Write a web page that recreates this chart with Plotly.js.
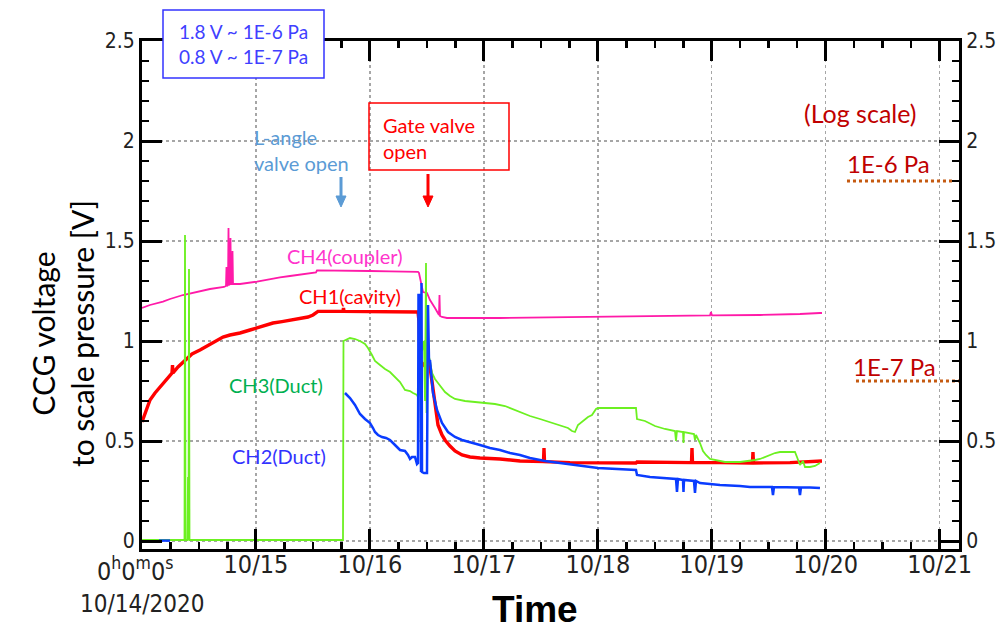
<!DOCTYPE html>
<html>
<head>
<meta charset="utf-8">
<script src="https://cdn.plot.ly/plotly-3.0.1.min.js"></script>
<style>html,body{margin:0;padding:0;background:#fff;}#chart{width:996px;height:629px;}</style>
</head>
<body>
<div id="chart"></div>
<script>
// ---- data: time in days since 10/14/2020 00:00, values in volts ----
const tickDays = [0, 1, 2, 3, 4, 5, 6, 7];
const tickLabels = ['', '10/15', '10/16', '10/17', '10/18', '10/19', '10/20', '10/21'];
const startTimeLabel = '0<sup>h</sup>0<sup>m</sup>0<sup>s</sup>';
const startDateLabel = '10/14/2020';

const ch4_t = [0, 0.0702, 0.1843, 0.2457, 0.3598, 0.4651, 0.5968, 0.7196, 0.7372, 0.7415, 0.7459, 0.7547, 0.7591, 0.7635, 0.7723, 0.7766, 0.7810, 0.7898, 0.7942, 0.7986, 0.8600, 1.0092, 1.1233, 1.2111, 1.2988, 1.3866, 1.4743, 1.5270, 1.5358, 1.6498, 1.8253, 2.0010, 2.1764, 2.3080, 2.4222, 2.4309, 2.4485, 2.4661, 2.5011, 2.5274, 2.5713, 2.5977, 2.6064, 2.6108, 2.6152, 2.6327, 2.6766, 3.1417, 3.5805, 3.9316, 4.0193, 4.4581, 4.8969, 4.9846, 4.9934, 5.0022, 5.4234, 5.6866, 5.7744, 5.9499, 5.9675];
const ch4_v = [1.165, 1.18, 1.197, 1.21, 1.23, 1.245, 1.26, 1.27, 1.275, 1.37, 1.275, 1.28, 1.565, 1.28, 1.285, 1.515, 1.285, 1.285, 1.45, 1.285, 1.285, 1.297, 1.31, 1.318, 1.325, 1.333, 1.34, 1.343, 1.353, 1.353, 1.35, 1.35, 1.348, 1.348, 1.346, 1.34, 1.285, 1.245, 1.24, 1.205, 1.165, 1.135, 1.13, 1.23, 1.125, 1.12, 1.115, 1.115, 1.118, 1.12, 1.12, 1.122, 1.125, 1.128, 1.145, 1.128, 1.13, 1.132, 1.135, 1.14, 1.14];

const ch1_t = [0, 0.0351, 0.0702, 0.1141, 0.1580, 0.2018, 0.2457, 0.2633, 0.2677, 0.2720, 0.3159, 0.3774, 0.4388, 0.5090, 0.5968, 0.7108, 0.7723, 0.8600, 0.9478, 1.0092, 1.0794, 1.1496, 1.2286, 1.2988, 1.3866, 1.4568, 1.5007, 1.5445, 1.7639, 1.7683, 1.7727, 2.2642, 2.4222, 2.4309, 2.4397, 2.4748, 2.5099, 2.5274, 2.5538, 2.5713, 2.5977, 2.6327, 2.6591, 2.7029, 2.7468, 2.8083, 2.8785, 2.9662, 3.1417, 3.3173, 3.5235, 3.5279, 3.5323, 3.7560, 4.0018, 4.3352, 4.3440, 4.8223, 4.8267, 4.8311, 5.0724, 5.3576, 5.3619, 5.3663, 5.6866, 5.9675];
const ch1_v = [0.595, 0.65, 0.705, 0.74, 0.77, 0.8, 0.83, 0.84, 0.88, 0.84, 0.87, 0.905, 0.935, 0.955, 0.985, 1.02, 1.03, 1.04, 1.055, 1.065, 1.075, 1.09, 1.097, 1.105, 1.115, 1.12, 1.13, 1.148, 1.148, 1.165, 1.148, 1.145, 1.145, 1.1, 0.9, 0.88, 0.9, 0.87, 0.76, 0.66, 0.58, 0.53, 0.505, 0.475, 0.45, 0.43, 0.42, 0.415, 0.41, 0.4, 0.397, 0.465, 0.397, 0.392, 0.39, 0.39, 0.395, 0.392, 0.465, 0.392, 0.392, 0.39, 0.445, 0.39, 0.392, 0.40];

const ch3_t = [0, 0.3730, 0.3774, 0.3817, 0.3993, 0.4037, 0.4081, 0.4125, 0.4168, 1.7639, 1.7683, 1.8253, 1.8692, 1.9131, 1.9570, 1.9833, 2.0184, 2.0447, 2.0886, 2.1325, 2.1764, 2.2203, 2.2642, 2.3080, 2.3519, 2.3783, 2.4134, 2.4222, 2.4309, 2.4397, 2.4485, 2.4573, 2.4748, 2.4836, 2.4924, 2.4968, 2.5099, 2.5274, 2.5450, 2.5713, 2.5977, 2.6591, 2.7029, 2.7468, 2.8346, 2.9223, 3.0101, 3.0979, 3.1856, 3.2295, 3.3173, 3.4050, 3.4928, 3.5805, 3.6683, 3.7385, 3.7736, 3.7999, 3.8262, 3.8701, 3.9140, 3.9491, 3.9842, 4.0018, 4.3352, 4.3440, 4.4142, 4.5020, 4.5897, 4.6775, 4.6863, 4.6950, 4.7477, 4.7521, 4.7565, 4.8442, 4.8530, 4.8618, 4.8969, 4.9232, 4.9495, 4.9846, 5.0285, 5.1162, 5.2479, 5.3356, 5.3795, 5.4234, 5.4672, 5.5111, 5.5550, 5.5989, 5.7305, 5.7481, 5.7744, 5.8007, 5.8183, 5.8622, 5.9061, 5.9499];
const ch3_v = [0.005, 0.005, 1.53, 0.005, 0.005, 0.32, 0.005, 1.36, 0.005, 0.005, 1.0, 1.015, 1.01, 1.0, 0.985, 0.965, 0.93, 0.9, 0.88, 0.86, 0.845, 0.82, 0.795, 0.755, 0.75, 0.74, 0.73, 0.72, 0.735, 1.2, 1.05, 0.95, 1.0, 0.7, 1.39, 0.64, 0.94, 0.9, 0.84, 0.81, 0.79, 0.745, 0.725, 0.71, 0.7, 0.695, 0.69, 0.685, 0.675, 0.665, 0.645, 0.625, 0.61, 0.595, 0.58, 0.565, 0.55, 0.545, 0.58, 0.6, 0.62, 0.63, 0.66, 0.665, 0.665, 0.61, 0.6, 0.575, 0.56, 0.55, 0.5, 0.55, 0.545, 0.49, 0.545, 0.535, 0.505, 0.53, 0.49, 0.45, 0.43, 0.41, 0.405, 0.395, 0.395, 0.4, 0.405, 0.41, 0.42, 0.43, 0.44, 0.445, 0.445, 0.42, 0.38, 0.4, 0.37, 0.37, 0.375, 0.39];

const ch2_t = [0.1492, 0.2457, null, 1.7815, 1.7990, 1.8253, 1.8692, 1.9131, 1.9570, 2.0010, 2.0272, 2.0447, 2.0711, 2.1062, 2.1413, 2.1764, 2.2203, 2.2642, 2.3080, 2.3344, 2.3519, 2.3695, 2.3958, 2.4134, 2.4222, 2.4265, 2.4441, 2.4485, 2.4529, 2.4573, 2.4748, 2.5011, 2.5099, 2.5187, 2.5274, 2.5538, 2.5889, 2.6327, 2.6854, 2.7468, 2.8083, 2.8785, 2.9662, 3.0540, 3.1417, 3.2295, 3.3173, 3.4050, 3.5366, 3.6683, 3.7999, 3.9316, 4.0018, 4.3352, 4.3440, 4.4581, 4.5897, 4.6863, 4.6950, 4.7038, 4.7477, 4.7521, 4.7565, 4.8442, 4.8530, 4.8618, 4.8969, 5.0724, 5.2479, 5.3356, 5.5287, 5.5374, 5.5462, 5.6866, 5.7656, 5.7744, 5.7832, 5.8622, 5.9499];
const ch2_v = [0.002, 0.002, null, 0.74, 0.73, 0.715, 0.68, 0.635, 0.61, 0.59, 0.565, 0.545, 0.53, 0.52, 0.515, 0.505, 0.48, 0.455, 0.45, 0.43, 0.41, 0.42, 0.42, 0.385, 0.39, 1.23, 1.23, 0.345, 1.29, 0.345, 0.34, 0.34, 1.18, 0.9, 0.905, 0.74, 0.655, 0.59, 0.545, 0.52, 0.505, 0.495, 0.48, 0.465, 0.455, 0.44, 0.43, 0.415, 0.4, 0.39, 0.38, 0.37, 0.365, 0.355, 0.33, 0.32, 0.315, 0.31, 0.245, 0.31, 0.305, 0.245, 0.305, 0.3, 0.24, 0.3, 0.29, 0.28, 0.275, 0.27, 0.27, 0.23, 0.27, 0.27, 0.268, 0.23, 0.268, 0.268, 0.265];

// pressure reference levels (right side, log scale markers)
const ref6_t = [6.187, 7.108];
const ref6_v = [1.8, 1.8];
const ref7_t = [6.266, 7.179];
const ref7_v = [0.8, 0.8];

// ---- layout helpers (pixel -> paper) ----
const L = 142, R = 959, T = 41, B = 549;
const px = x => (x - L) / (R - L);
const py = y => (B - y) / (B - T);

const NARROW = '"Liberation Sans Narrow", "Arial Narrow", "DejaVu Sans Condensed", sans-serif';
const TXT = 'Lato, "Noto Sans", sans-serif';

function arrowShapes(x, yTop, yTip, color) {
  const line = {type: 'line', xref: 'paper', yref: 'paper', x0: px(x), x1: px(x), y0: py(yTop), y1: py(yTip - 10), line: {color: color, width: 3}, layer: 'above'};
  const head = {type: 'path', xref: 'paper', yref: 'paper', layer: 'above', fillcolor: color, line: {color: color, width: 1},
    path: 'M ' + px(x - 5) + ' ' + py(yTip - 11) + ' L ' + px(x + 5) + ' ' + py(yTip - 11) + ' L ' + px(x) + ' ' + py(yTip) + ' Z'};
  return [line, head];
}

const traces = [
  {x: ch4_t, y: ch4_v, mode: 'lines', line: {color: '#ff1aa8', width: 1.8}, name: 'CH4'},
  {x: ch1_t, y: ch1_v, mode: 'lines', line: {color: '#ff0000', width: 3.4}, name: 'CH1'},
  {x: ch3_t, y: ch3_v, mode: 'lines', line: {color: '#6cf021', width: 1.8}, name: 'CH3'},
  {x: ch2_t, y: ch2_v, mode: 'lines', line: {color: '#0a3cff', width: 2.5}, name: 'CH2', connectgaps: false},
  {x: ref6_t, y: ref6_v, yaxis: 'y2', mode: 'lines', line: {color: '#c55a11', width: 3, dash: 'dot'}, name: '1E-6'},
  {x: ref7_t, y: ref7_v, yaxis: 'y2', mode: 'lines', line: {color: '#c55a11', width: 3, dash: 'dot'}, name: '1E-7'}
];

const yCommon = {
  range: [-0.04, 2.5], tick0: 0, dtick: 0.5, ticks: 'inside', ticklen: 20, tickwidth: 3, tickcolor: '#000',
  showline: true, linewidth: 3, linecolor: '#000', zeroline: false,
  tickfont: {family: NARROW, size: 21, color: '#222'},
  minor: {tickmode: 'linear', tick0: 0, dtick: 0.1, ticks: 'inside', ticklen: 7, tickwidth: 2.5, tickcolor: '#000', showgrid: false}
};

const layout = {
  width: 996, height: 629,
  margin: {l: L, r: 996 - R, t: T, b: 629 - B},
  paper_bgcolor: '#fff', plot_bgcolor: '#fff',
  showlegend: false,
  xaxis: {
    range: [0, 7.17], tickmode: 'array', tickvals: tickDays, ticktext: tickLabels,
    ticks: 'inside', ticklen: 20, tickwidth: 3, tickcolor: '#000', ticklabelstandoff: -9,
    showline: true, linewidth: 3, linecolor: '#000', mirror: 'ticks', zeroline: false,
    showgrid: true, gridcolor: '#a6a6a6', griddash: 'dot', gridwidth: 1.5,
    tickfont: {family: NARROW, size: 25, color: '#222'},
    minor: {tickmode: 'linear', tick0: 0, dtick: 0.25, ticks: 'inside', ticklen: 7, tickwidth: 2.5, tickcolor: '#000', showgrid: false}
  },
  yaxis: Object.assign({}, yCommon, {showgrid: true, gridcolor: '#a6a6a6', griddash: 'dot', gridwidth: 1.5}),
  yaxis2: Object.assign({}, yCommon, {overlaying: 'y', side: 'right', showgrid: false}),
  shapes: [
    {type: 'rect', xref: 'paper', yref: 'paper', x0: px(163), x1: px(324), y0: py(78), y1: py(10), fillcolor: '#fff', line: {color: '#3333ff', width: 1.5}, layer: 'above'},
    {type: 'rect', xref: 'paper', yref: 'paper', x0: px(369), x1: px(509), y0: py(170), y1: py(103), fillcolor: 'rgba(0,0,0,0)', line: {color: '#ff0000', width: 1.5}, layer: 'above'}
  ].concat(arrowShapes(341, 177, 207, '#5b9bd5'), arrowShapes(428, 174, 207, '#ff0000')),
  annotations: [
    {xref: 'paper', yref: 'paper', x: px(243.5), y: py(44), xanchor: 'center', yanchor: 'middle', showarrow: false, align: 'center',
      text: '1.8 V ~ 1E-6 Pa<br>0.8 V ~ 1E-7 Pa', font: {family: TXT, size: 19, color: '#4040ff'}},
    {xref: 'paper', yref: 'paper', x: px(252), y: py(150), xanchor: 'left', yanchor: 'middle', showarrow: false, align: 'left',
      text: 'L-angle<br>valve open', font: {family: TXT, size: 20, color: '#5b9bd5'}},
    {xref: 'paper', yref: 'paper', x: px(381), y: py(138), xanchor: 'left', yanchor: 'middle', showarrow: false, align: 'left',
      text: 'Gate valve<br>open', font: {family: TXT, size: 20, color: '#ff0000'}},
    {xref: 'paper', yref: 'paper', x: px(860), y: py(113), xanchor: 'center', yanchor: 'middle', showarrow: false,
      text: '(Log scale)', font: {family: TXT, size: 25, color: '#c00000'}},
    {xref: 'paper', yref: 'paper', x: px(888), y: py(163), xanchor: 'center', yanchor: 'middle', showarrow: false,
      text: '1E-6 Pa', font: {family: TXT, size: 24, color: '#c00000'}},
    {xref: 'paper', yref: 'paper', x: px(894), y: py(366), xanchor: 'center', yanchor: 'middle', showarrow: false,
      text: '1E-7 Pa', font: {family: TXT, size: 24, color: '#c00000'}},
    {xref: 'paper', yref: 'paper', x: px(345), y: py(256), xanchor: 'center', yanchor: 'middle', showarrow: false,
      text: 'CH4(coupler)', font: {family: TXT, size: 20, color: '#ff33cc'}},
    {xref: 'paper', yref: 'paper', x: px(350), y: py(296), xanchor: 'center', yanchor: 'middle', showarrow: false,
      text: 'CH1(cavity)', font: {family: TXT, size: 20, color: '#ff0000'}},
    {xref: 'paper', yref: 'paper', x: px(276), y: py(385), xanchor: 'center', yanchor: 'middle', showarrow: false,
      text: 'CH3(Duct)', font: {family: TXT, size: 20, color: '#00b050'}},
    {xref: 'paper', yref: 'paper', x: px(279), y: py(456), xanchor: 'center', yanchor: 'middle', showarrow: false,
      text: 'CH2(Duct)', font: {family: TXT, size: 20, color: '#3333ff'}},
    {xref: 'paper', yref: 'paper', x: px(62), y: py(334), xanchor: 'center', yanchor: 'middle', showarrow: false, textangle: -90,
      text: 'CCG voltage<br>to scale pressure [V]', font: {family: TXT, size: 30, color: '#000'}},
    {xref: 'paper', yref: 'paper', x: px(135), y: py(569), xanchor: 'center', yanchor: 'middle', showarrow: false,
      text: startTimeLabel, font: {family: NARROW, size: 25, color: '#222'}},
    {xref: 'paper', yref: 'paper', x: px(142), y: py(604), xanchor: 'center', yanchor: 'middle', showarrow: false,
      text: startDateLabel, font: {family: NARROW, size: 24, color: '#222'}},
    {xref: 'paper', yref: 'paper', x: px(535), y: py(609), xanchor: 'center', yanchor: 'middle', showarrow: false,
      text: '<b>Time</b>', font: {family: '"Liberation Sans", Arial, sans-serif', size: 37, color: '#000'}}
  ]
};

Plotly.newPlot('chart', traces, layout, {displayModeBar: false, staticPlot: true});
</script>
</body>
</html>
